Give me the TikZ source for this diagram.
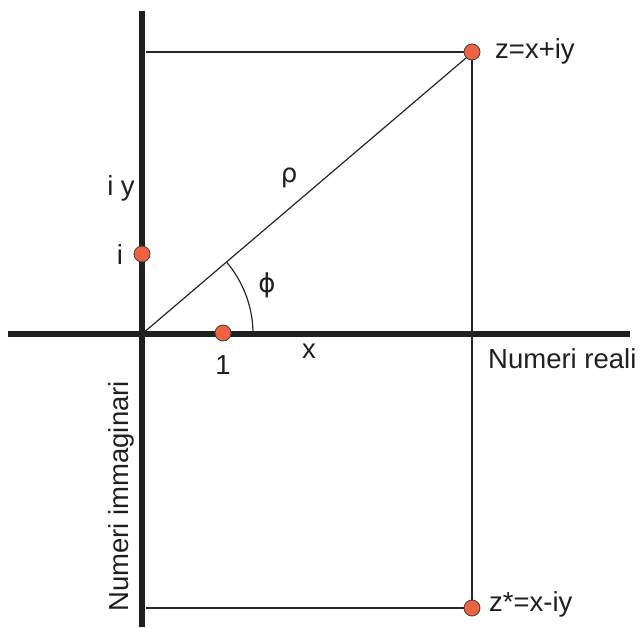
\documentclass[tikz,border=0pt]{standalone}
\usepackage{fontspec}
\setmainfont{Liberation Sans}
\newfontfamily\symfont{DejaVu Sans}
\begin{document}
\begin{tikzpicture}[x=1pt,y=-1pt,
  axis/.style={line width=6.5pt,color=black!88},
  thin/.style={line width=1.2pt,color=black!85},
  dot/.style={circle,fill={rgb,255:red,238;green,98;blue,66},draw=black!75,line width=0.8pt,minimum size=16pt,inner sep=0pt},
  lbl/.style={inner sep=0pt,font=\fontsize{27.5}{30}\selectfont,text=black!88}]
\useasboundingbox (0,0) rectangle (643,627);
% axes
\coordinate (vtop) at (142,11);
\coordinate (vbot) at (142,627);
\coordinate (hl) at (8,334);
\coordinate (hr) at (630,334);
\coordinate (O) at (142,334);
\draw[axis] (vtop) -- (vbot);
\draw[axis] (hl) -- (hr);
% points
\node[dot] (z) at (472,52) {};
\node[dot] (zc) at (472,608) {};
\coordinate (ztop) at (146,52);
\coordinate (zbot) at (146,608);
\draw[thin] (ztop) -- (z.west);
\draw[thin] (zbot) -- (zc.west);
\draw[thin] (z.south) -- (zc.north);
\draw[thin] (O) -- (z.south west);
% angle arc
\draw[thin] (253,334) arc[start angle=0,end angle=-40.4,radius=111];
\node[dot] (i) at (142,254) {};
\node[dot] (one) at (223,333) {};
% labels
\node[lbl,anchor=west] (lz) at (495,51) {z=x+iy};
\node[lbl,anchor=west] (lzc) at (489,604) {z*=x-iy};
\node[lbl,anchor=base west] (lre) at (488,368) {Numeri reali};
\node[lbl,anchor=base west,rotate=90] (lim) at (128,612) {Numeri immaginari};
\node[lbl] (liy) at (121,188) {i y};
\node[lbl] (li) at (120,255) {i};
\node[lbl] (l1) at (223,365) {1};
\node[lbl] (lx) at (309,351) {x};
\node[lbl,font=\symfont\fontsize{26}{30}\selectfont] (lrho) at (289,178) {ρ};
\node[lbl,font=\symfont\fontsize{26}{30}\selectfont] (lphi) at (267,285) {ϕ};
\end{tikzpicture}
\end{document}
